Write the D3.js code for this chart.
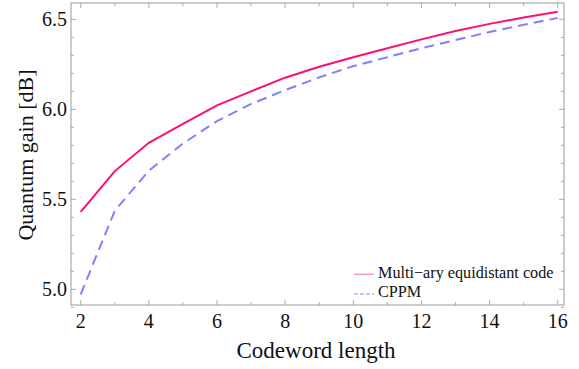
<!DOCTYPE html>
<html><head><meta charset="utf-8">
<script src="https://cdn.jsdelivr.net/npm/d3@7"></script>
<style>body{margin:0;background:#fff}svg{display:block}</style>
</head><body><svg id="c" width="579" height="369"></svg>
<script>
const codewordLength = [2,3,4,5,6,7,8,9,10,11,12,13,14,15,16];
const multiAry = [5.43,5.657,5.814,5.92,6.022,6.10,6.176,6.237,6.29,6.34,6.389,6.435,6.475,6.51,6.542];
const cppm     = [4.972,5.437,5.659,5.81,5.935,6.03,6.107,6.178,6.24,6.29,6.34,6.385,6.43,6.47,6.508];
const xTicks = [2,4,6,8,10,12,14,16];
const yTicks = [5.0,5.5,6.0,6.5];
const seriesNames = ["Multi\u2212ary equidistant code","CPPM"];

const svg = d3.select("#c");
const L=71,R=564,T=3,B=305;
const x = d3.scaleLinear().domain([1.715,16.185]).range([L,R]);
const y = d3.scaleLinear().domain([4.913,6.591]).range([B,T]);
const grey="#9a9a9a";
const font="'Liberation Serif','Times New Roman',serif";

svg.append("rect").attr("x",L).attr("y",T).attr("width",R-L).attr("height",B-T)
  .attr("fill","none").attr("stroke",grey).attr("stroke-width",1);

const xMinor = d3.range(2,17,1);
const yMinor = d3.range(49,66,1).map(d=>d/10);
const g = svg.append("g").attr("stroke",grey).attr("stroke-width",0.8);
xMinor.forEach(v=>{
  const len = xTicks.includes(v)?5:3;
  g.append("line").attr("x1",x(v)).attr("x2",x(v)).attr("y1",B).attr("y2",B-len);
  g.append("line").attr("x1",x(v)).attr("x2",x(v)).attr("y1",T).attr("y2",T+len);
});
yMinor.forEach(v=>{
  const len = yTicks.some(t=>Math.abs(t-v)<1e-9)?5:3;
  g.append("line").attr("y1",y(v)).attr("y2",y(v)).attr("x1",L).attr("x2",L+len);
  g.append("line").attr("y1",y(v)).attr("y2",y(v)).attr("x1",R).attr("x2",R-len);
});

svg.selectAll(".xt").data(xTicks).join("text").attr("x",d=>x(d)).attr("y",B+23)
  .attr("text-anchor","middle").attr("font-family",font).attr("font-size",20).attr("fill","#111").text(d=>d);
svg.selectAll(".yt").data(yTicks).join("text").attr("x",L-4).attr("y",d=>y(d)+7)
  .attr("text-anchor","end").attr("font-family",font).attr("font-size",20).attr("fill","#111").text(d=>d.toFixed(1));

svg.append("text").attr("x",316).attr("y",358).attr("text-anchor","middle")
  .attr("font-family",font).attr("font-size",23).attr("fill","#111").text("Codeword length");
svg.append("text").attr("transform",`translate(33,155) rotate(-90)`).attr("text-anchor","middle")
  .attr("font-family",font).attr("font-size",22).attr("fill","#111").text("Quantum gain [dB]");

const line = d3.line().x((d,i)=>x(codewordLength[i])).y(d=>y(d));
svg.append("path").attr("d",line(cppm)).attr("fill","none").attr("stroke","#8080ff")
  .attr("stroke-width",2).attr("stroke-dasharray","10,6");
svg.append("path").attr("d",line(multiAry)).attr("fill","none").attr("stroke","#ff0f72")
  .attr("stroke-width",2);

const leg = [{c:"#ff9cc4",dash:null},{c:"#b3b3ff",dash:"4,2"}];
seriesNames.forEach((n,i)=>{
  const yy = 274.3 + i*19.7;
  svg.append("line").attr("x1",354).attr("x2",374).attr("y1",yy).attr("y2",yy)
    .attr("stroke",leg[i].c).attr("stroke-width",1.5).attr("stroke-dasharray",leg[i].dash);
  svg.append("text").attr("x",378).attr("y",yy+3.2).attr("font-family",font).attr("font-size",16.2).attr("fill","#111").text(n);
});
</script></body></html>
